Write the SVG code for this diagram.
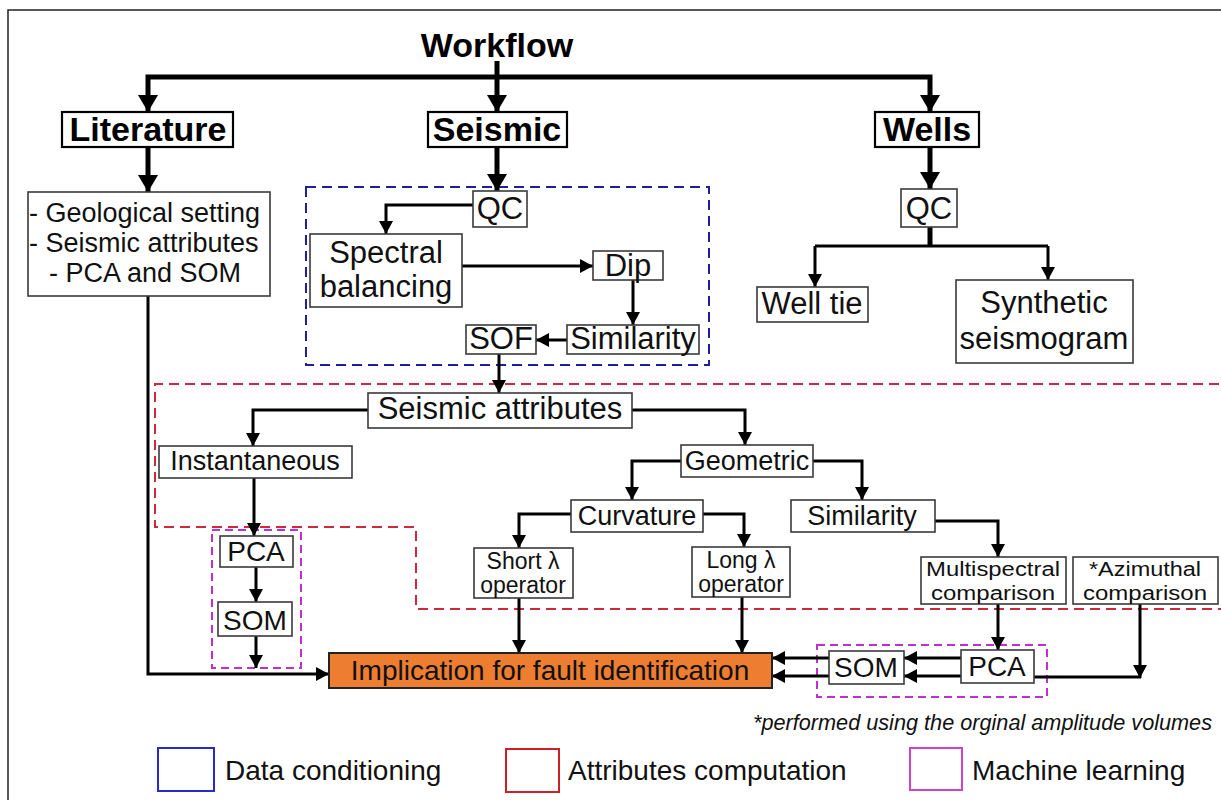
<svg xmlns="http://www.w3.org/2000/svg" width="1221" height="800" viewBox="0 0 1221 800">
  <defs>
    <marker id="ah" markerUnits="userSpaceOnUse" markerWidth="14" markerHeight="14" refX="13" refY="7" orient="auto">
      <path d="M0,0 L13,7 L0,14 z" fill="#000"/>
    </marker>
    <marker id="ahBig" markerUnits="userSpaceOnUse" markerWidth="18" markerHeight="20" refX="17" refY="10" orient="auto">
      <path d="M0,0 L17,10 L0,20 z" fill="#000"/>
    </marker>
    <style>
      text { font-family: "Liberation Sans", Arial, sans-serif; fill: #111; }
      .head { font-size: 34px; font-weight: bold; text-anchor: middle; fill: #000; }
      .t31 { font-size: 31px; text-anchor: middle; }
      .t28 { font-size: 28px; text-anchor: middle; }
      .t27 { font-size: 27px; text-anchor: middle; }
      .t23 { font-size: 23px; text-anchor: middle; }
      .t20 { font-size: 20px; text-anchor: middle; }
      .box { fill: #fff; stroke: #3a3a3a; stroke-width: 1.6; }
      .hbox { fill: #fff; stroke: #000; stroke-width: 2.2; }
      .thick { fill: none; stroke: #000; stroke-width: 5; }
      .thin { fill: none; stroke: #000; stroke-width: 3; }
      .dc { fill: none; stroke: #1f1f9a; stroke-width: 2; stroke-dasharray: 10 6; }
      .ac { fill: none; stroke: #d0283c; stroke-width: 2; stroke-dasharray: 10 6; }
      .ml { fill: none; stroke: #c030d0; stroke-width: 2; stroke-dasharray: 8 5; }
      .legend { font-size: 28px; }
    </style>
  </defs>

  <rect width="1221" height="800" fill="#fff"/>
  <!-- outer frame -->
  <rect x="8" y="10" width="1240" height="820" fill="none" stroke="#222" stroke-width="1.5"/>

  <!-- grouping regions -->
  <g id="regions">
    <rect class="dc" x="306" y="187" width="403" height="178"/>
    <path class="ac" d="M1235,384 H155 V527 H416 V609 H1235"/>
    <rect class="ml" x="212" y="530" width="89" height="138"/>
    <rect class="ml" x="817" y="645" width="230" height="52"/>
  </g>

  <text id="title" x="497" y="57" class="head">Workflow</text>

  <!-- connectors -->
  <g id="connectors">
    <path class="thick" d="M497,61 V112" marker-end="url(#ahBig)"/>
    <path class="thick" d="M497,77 H148 V112" marker-end="url(#ahBig)"/>
    <path class="thick" d="M497,77 H930 V112" marker-end="url(#ahBig)"/>
    <path class="thick" d="M148,147 V192" marker-end="url(#ahBig)"/>
    <path class="thick" d="M497,147 V191" marker-end="url(#ahBig)"/>
    <path class="thick" d="M930,147 V189" marker-end="url(#ahBig)"/>
    <path class="thick" d="M930,227 V247"/>

    <path class="thin" d="M473,205 H386 V234" marker-end="url(#ah)"/>
    <path class="thin" d="M462,266 H593" marker-end="url(#ah)"/>
    <path class="thin" d="M633,280 V325" marker-end="url(#ah)"/>
    <path class="thin" d="M567,340 H536" marker-end="url(#ah)"/>
    <path class="thin" d="M499,354 V393" marker-end="url(#ah)"/>

    <path class="thin" d="M815,246 H1048"/>
    <path class="thin" d="M815,246 V287" marker-end="url(#ah)"/>
    <path class="thin" d="M1048,246 V280" marker-end="url(#ah)"/>

    <path class="thin" d="M368,410 H253 V446" marker-end="url(#ah)"/>
    <path class="thin" d="M632,410 H745 V445" marker-end="url(#ah)"/>
    <path class="thin" d="M681,461 H632 V500" marker-end="url(#ah)"/>
    <path class="thin" d="M813,461 H862 V500" marker-end="url(#ah)"/>
    <path class="thin" d="M571,514 H519 V548" marker-end="url(#ah)"/>
    <path class="thin" d="M703,514 H744 V547" marker-end="url(#ah)"/>
    <path class="thin" d="M935,521 H998 V557" marker-end="url(#ah)"/>

    <path class="thin" d="M254,478 V536" marker-end="url(#ah)"/>
    <path class="thin" d="M256,567 V602" marker-end="url(#ah)"/>
    <path class="thin" d="M256,636 V668" marker-end="url(#ah)"/>
    <path class="thin" d="M148,296 V674 H329" marker-end="url(#ah)"/>

    <path class="thin" d="M519,598 V653" marker-end="url(#ah)"/>
    <path class="thin" d="M742,597 V653" marker-end="url(#ah)"/>
    <path class="thin" d="M998,604 V650" marker-end="url(#ah)"/>
    <path class="thin" d="M1140,604 V678" marker-end="url(#ah)"/>
    <path class="thin" d="M1034,677 H1141"/>

    <path class="thin" d="M961,658 H904" marker-end="url(#ah)"/>
    <path class="thin" d="M961,676 H904" marker-end="url(#ah)"/>
    <path class="thin" d="M829,658 H772" marker-end="url(#ah)"/>
    <path class="thin" d="M829,676 H772" marker-end="url(#ah)"/>
  </g>

  <!-- top-level sources -->
  <g id="literature">
    <rect class="hbox" x="62" y="112" width="171" height="35"/>
    <text x="148" y="141" class="head">Literature</text>
  </g>
  <g id="seismic">
    <rect class="hbox" x="428" y="112" width="139" height="35"/>
    <text x="497" y="141" class="head">Seismic</text>
  </g>
  <g id="wells">
    <rect class="hbox" x="875" y="112" width="104" height="35"/>
    <text x="927" y="141" class="head">Wells</text>
  </g>

  <!-- literature branch -->
  <g id="literature-topics">
    <rect class="box" x="28" y="192" width="242" height="104"/>
    <text x="29" y="222" font-size="27">- Geological setting</text>
    <text x="29" y="252" font-size="27">- Seismic attributes</text>
    <text x="49" y="282" font-size="27">- PCA and SOM</text>
  </g>

  <!-- seismic data conditioning -->
  <g id="seismic-qc">
    <rect class="box" x="473" y="191" width="54" height="36"/>
    <text x="500" y="219" class="t31">QC</text>
  </g>
  <g id="spectral-balancing">
    <rect class="box" x="310" y="234" width="152" height="73"/>
    <text x="386" y="263" class="t31">Spectral</text>
    <text x="386" y="297" class="t31">balancing</text>
  </g>
  <g id="dip">
    <rect class="box" x="593" y="251" width="70" height="29"/>
    <text x="628" y="276" class="t31">Dip</text>
  </g>
  <g id="similarity-dc">
    <rect class="box" x="567" y="325" width="132" height="29"/>
    <text x="633" y="349" class="t31">Similarity</text>
  </g>
  <g id="sof">
    <rect class="box" x="466" y="325" width="70" height="29"/>
    <text x="501" y="349" class="t31">SOF</text>
  </g>

  <!-- wells branch -->
  <g id="wells-qc">
    <rect class="box" x="901" y="189" width="56" height="38"/>
    <text x="929" y="219" class="t31">QC</text>
  </g>
  <g id="well-tie">
    <rect class="box" x="757" y="287" width="111" height="35"/>
    <text x="812" y="314" class="t31">Well tie</text>
  </g>
  <g id="synthetic-seismogram">
    <rect class="box" x="956" y="280" width="177" height="83"/>
    <text x="1044" y="313" class="t31">Synthetic</text>
    <text x="1044" y="349" class="t31">seismogram</text>
  </g>

  <!-- attribute computation -->
  <g id="seismic-attributes">
    <rect class="box" x="368" y="393" width="264" height="35"/>
    <text x="500" y="419" class="t31">Seismic attributes</text>
  </g>
  <g id="instantaneous">
    <rect class="box" x="159" y="446" width="193" height="32"/>
    <text x="255" y="470" class="t27">Instantaneous</text>
  </g>
  <g id="geometric">
    <rect class="box" x="681" y="445" width="132" height="32"/>
    <text x="747" y="470" class="t27">Geometric</text>
  </g>
  <g id="curvature">
    <rect class="box" x="571" y="500" width="132" height="32"/>
    <text x="637" y="525" class="t27">Curvature</text>
  </g>
  <g id="similarity-geo">
    <rect class="box" x="791" y="500" width="144" height="32"/>
    <text x="862" y="525" class="t27">Similarity</text>
  </g>
  <g id="short-operator">
    <rect class="box" x="474" y="548" width="99" height="50"/>
    <text x="523" y="569" class="t23">Short λ</text>
    <text x="523" y="593" class="t23">operator</text>
  </g>
  <g id="long-operator">
    <rect class="box" x="692" y="547" width="98" height="50"/>
    <text x="741" y="568" class="t23">Long λ</text>
    <text x="741" y="592" class="t23">operator</text>
  </g>
  <g id="multispectral">
    <rect class="box" x="921" y="557" width="145" height="47"/>
    <text x="993" y="576" class="t20" textLength="134" lengthAdjust="spacingAndGlyphs">Multispectral</text>
    <text x="993" y="600" class="t20" textLength="124" lengthAdjust="spacingAndGlyphs">comparison</text>
  </g>
  <g id="azimuthal">
    <rect class="box" x="1073" y="557" width="145" height="47"/>
    <text x="1145" y="576" class="t20" textLength="112" lengthAdjust="spacingAndGlyphs">*Azimuthal</text>
    <text x="1145" y="600" class="t20" textLength="124" lengthAdjust="spacingAndGlyphs">comparison</text>
  </g>

  <!-- machine learning -->
  <g id="pca-left">
    <rect class="box" x="220" y="536" width="73" height="31"/>
    <text x="256" y="561" class="t28">PCA</text>
  </g>
  <g id="som-left">
    <rect class="box" x="218" y="602" width="74" height="34"/>
    <text x="255" y="630" class="t28">SOM</text>
  </g>
  <g id="som-right">
    <rect class="box" x="829" y="651" width="75" height="33"/>
    <text x="866" y="677" class="t28">SOM</text>
  </g>
  <g id="pca-right">
    <rect class="box" x="961" y="650" width="73" height="33"/>
    <text x="997" y="676" class="t28">PCA</text>
  </g>

  <!-- outcome -->
  <g id="implication">
    <rect x="329" y="653" width="443" height="35" fill="#ED7D31" stroke="#222" stroke-width="2"/>
    <text x="550" y="680" class="t28">Implication for fault identification</text>
  </g>

  <text id="footnote" x="1212" y="730" font-size="22" font-style="italic" text-anchor="end" textLength="459" lengthAdjust="spacingAndGlyphs">*performed using the orginal amplitude volumes</text>

  <!-- legend -->
  <g id="legend">
    <rect x="158" y="748" width="56" height="43" fill="none" stroke="#2a2ac8" stroke-width="2"/>
    <text x="225" y="780" class="legend">Data conditioning</text>
    <rect x="506" y="749" width="53" height="43" fill="none" stroke="#cc2028" stroke-width="2"/>
    <text x="568" y="780" class="legend">Attributes computation</text>
    <rect x="910" y="748" width="52" height="42" fill="none" stroke="#cc44cc" stroke-width="2"/>
    <text x="972" y="780" class="legend">Machine learning</text>
  </g>
</svg>
